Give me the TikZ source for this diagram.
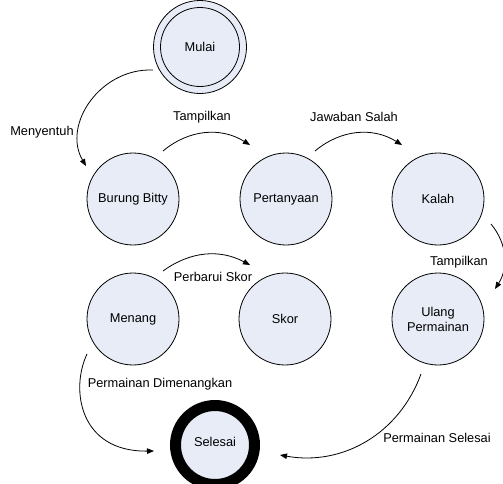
\documentclass[tikz,border=0pt]{standalone}
\usepackage{fontspec}
\setmainfont{Liberation Sans}
\usetikzlibrary{arrows.meta}
\definecolor{stfill}{RGB}{231,236,247}
\begin{document}
\begin{tikzpicture}[x=1pt,y=-1pt,
  every node/.style={font=\fontsize{12.8}{15}\selectfont},
  state/.style={circle,draw=black,line width=0.8pt,fill=stfill,minimum size=92pt,inner sep=0pt,align=center},
  lbl/.style={inner sep=0pt},
  conn/.style={line width=0.8pt,-{Triangle[length=7pt,width=5.5pt]}}]
\useasboundingbox (0,0) rectangle (503,483);
% states
\node[state,minimum size=93pt] (mulaiO) at (200,47) {};
\node[circle,draw=black,line width=0.8pt,minimum size=79pt,inner sep=0pt] (mulai) at (200,47) {Mulai};
\node[state] (burung) at (133,199) {Burung Bitty};
\node[state] (tanya) at (286,199) {Pertanyaan};
\node[state] (kalah) at (438,199) {Kalah};
\node[state] (menang) at (133,319) {Menang};
\node[state] (skor) at (285,319) {Skor};
\node[state] (ulang) at (438,319) {Ulang\\Permainan};
\node[circle,draw=black,line width=11pt,fill=stfill,minimum size=79pt,inner sep=0pt] (selesai) at (215,445) {};
\node at (215,442) (selesaiT) {Selesai};
% connector ends
\coordinate (a1) at (153,70);   \coordinate (a2) at (86,166);
\coordinate (b1) at (163,151);  \coordinate (b2) at (250,145);
\coordinate (c1) at (315,151);  \coordinate (c2) at (402,145);
\coordinate (d1) at (491,224);  \coordinate (d2) at (495,289);
\coordinate (e1) at (163,271);  \coordinate (e2) at (250,265);
\coordinate (f1) at (87,354);   \coordinate (f2) at (154,451);
\coordinate (g1) at (421,374);  \coordinate (g2) at (280,455);
% connectors
\draw[conn] (a1) .. controls (100,68) and (62,125) .. (a2);
\draw[conn] (b1) to[bend left=36] (b2);
\draw[conn] (c1) to[bend left=36] (c2);
\draw[conn] (d1) to[bend left=36] (d2);
\draw[conn] (e1) to[bend left=32] (e2);
\draw[conn] (f1) .. controls (70,390) and (80,452) .. (f2);
\draw[conn] (g1) to[bend left=40] (g2);
% labels
\node[lbl] (l1) at (42,132) {Menyentuh};
\node[lbl] (l2) at (202,117) {Tampilkan};
\node[lbl] (l3) at (354,117) {Jawaban Salah};
\node[lbl] (l4) at (459,262) {Tampilkan};
\node[lbl] (l5) at (213,277) {Perbarui Skor};
\node[lbl] (l6) at (160,384) {Permainan Dimenangkan};
\node[lbl] (l7) at (437,438) {Permainan Selesai};
\end{tikzpicture}
\end{document}
